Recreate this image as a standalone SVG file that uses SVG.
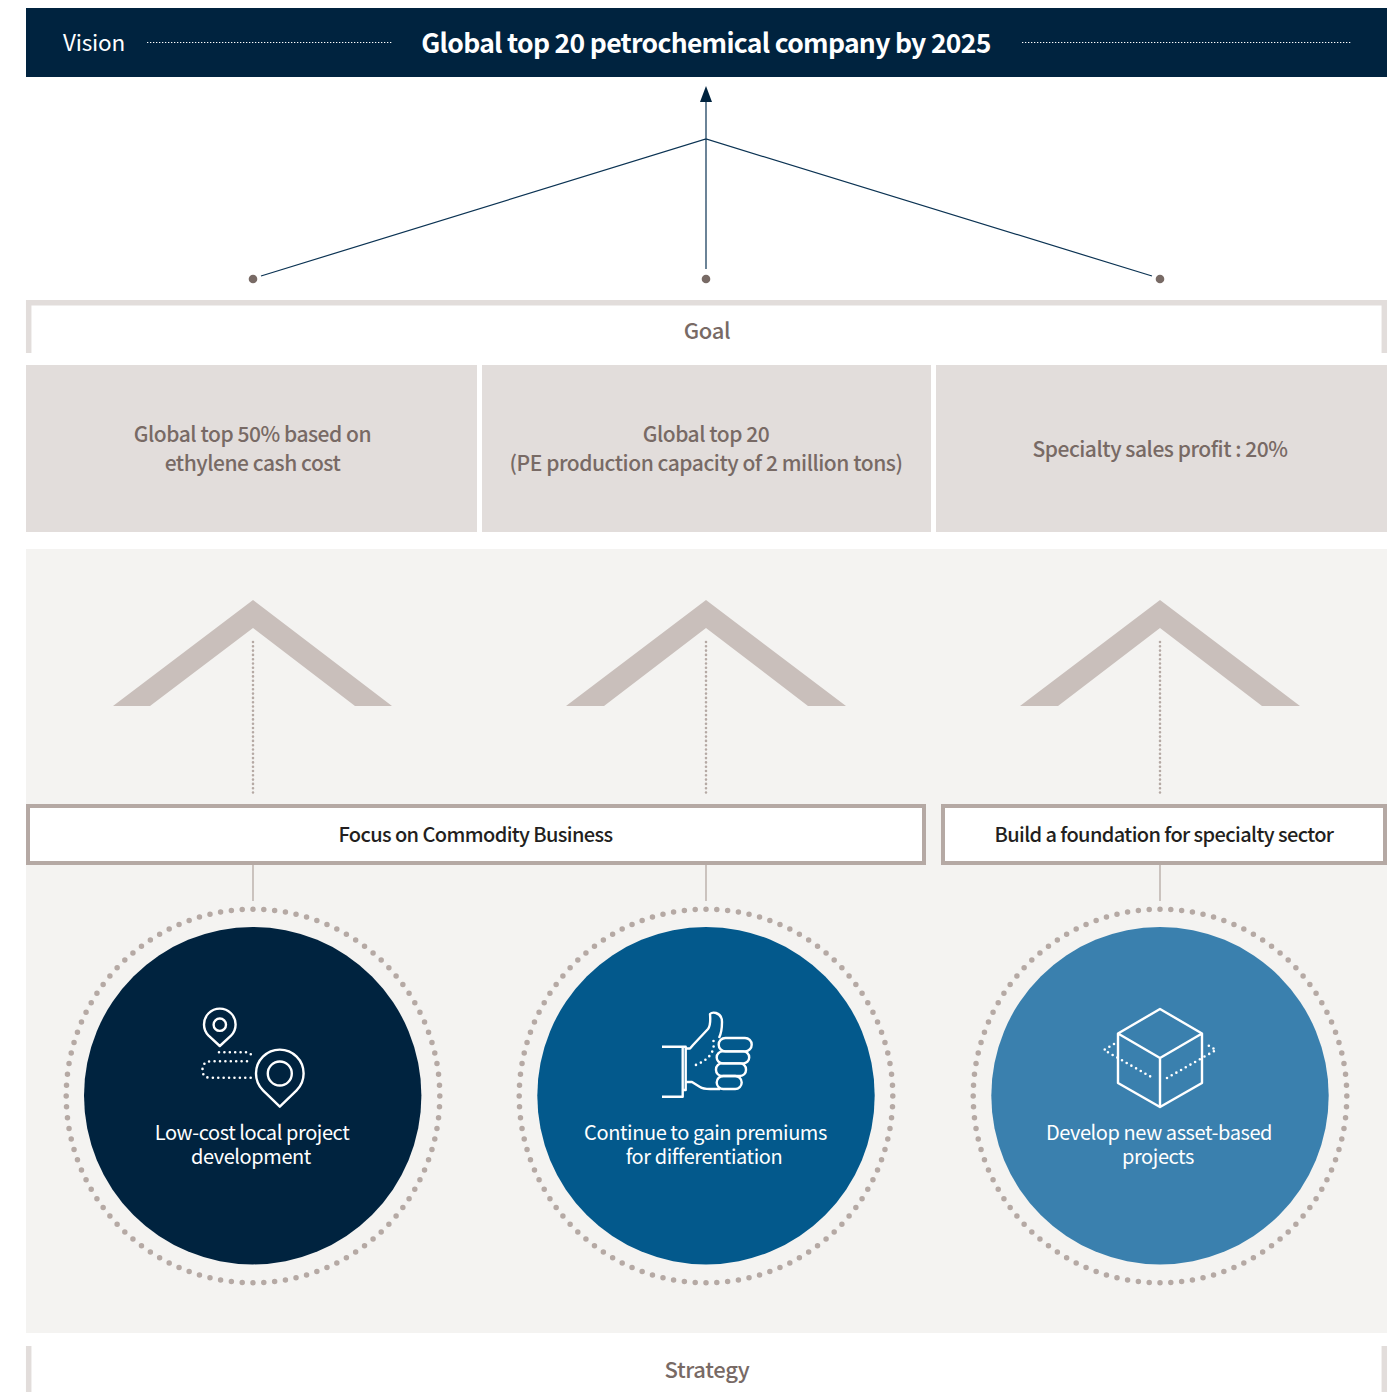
<svg xmlns="http://www.w3.org/2000/svg" width="1399" height="1392" viewBox="0 0 1399 1392">
<style>
text{font-family:"Noto Sans CJK KR","Noto Sans",sans-serif;text-anchor:middle}
.g{fill:#786a65;font-size:21px;font-weight:500;letter-spacing:-.46px}
.k{fill:#231f20;font-size:20px;font-weight:500;letter-spacing:-.6px}
.w{fill:#fff;font-size:20px;font-weight:400;letter-spacing:-.42px}
.box{fill:#e2dddb}
.chev{fill:#c9bfbb}
.ic{fill:none;stroke:#fff;stroke-width:2.4;stroke-linejoin:round}
.id{fill:none;stroke:#fff;stroke-width:2.6;stroke-linecap:round;stroke-dasharray:0 5.4}
.sq{fill:#fff;stroke:#b5a9a4;stroke-width:4}
.ring{fill:none;stroke:#b5a9a4;stroke-width:5.5;stroke-linecap:round;stroke-dasharray:0 1}
.dotv{fill:none;stroke:#b5a9a4;stroke-width:2.6;stroke-linecap:round;stroke-dasharray:0 4.3}
.stem{stroke:#b5a9a4;stroke-width:1.3}
.ln{fill:none;stroke:#0b3353;stroke-width:1.2}
.dot{fill:#786a65}
.br{fill:none;stroke:#e2dddb;stroke-width:5.5}
</style>
<rect width="1399" height="1392" fill="#fff"/>
<rect id="panel" x="26" y="549" width="1361" height="784" fill="#f4f3f1"/>
<g id="vision">
<rect x="26" y="8" width="1361" height="69" fill="#00233f"/>
<text x="94" y="51" fill="#fff" style="font-size:22.5px;font-weight:400;letter-spacing:-.2px">Vision</text>
<line x1="147" y1="42.500" x2="392" y2="42.500" stroke="#fff" stroke-width="1" stroke-dasharray="1.300 1.700"/>
<text x="706" y="53" fill="#fff" style="font-size:26.5px;font-weight:700;letter-spacing:-.7px">Global top 20 petrochemical company by 2025</text>
<line x1="1022" y1="42.500" x2="1351" y2="42.500" stroke="#fff" stroke-width="1" stroke-dasharray="1.300 1.700"/>
</g>
<g id="connectors">
<path class="ln" d="M706 269V100M261 276L706 139L1152 276"/>
<path d="M706 86L712 102H700Z" fill="#00233f"/>
<circle class="dot" cx="253" cy="279" r="4.300"/><circle class="dot" cx="706" cy="279" r="4.300"/><circle class="dot" cx="1160" cy="279" r="4.300"/>
<path class="dotv" d="M253 642V795M706 642V795M1160 642V795"/>
<path class="stem" d="M253 865V901M706 865V901M1160 865V901"/>
</g>
<g id="goal">
<path class="br" d="M28.700 353V302.700H1384.300V353"/>
<text class="g" x="707" y="339" style="font-size:22px;letter-spacing:-.35px">Goal</text>
</g>
<g id="goal1"><rect class="box" x="26" y="365" width="451" height="167"/><text class="g" x="252.500" y="441.700">Global top 50% based on</text><text class="g" x="252.500" y="470.700">ethylene cash cost</text></g>
<g id="goal2"><rect class="box" x="482" y="365" width="449" height="167"/><text class="g" x="706" y="441.700">Global top 20</text><text class="g" x="706" y="470.700">(PE production capacity of 2 million tons)</text></g>
<g id="goal3"><rect class="box" x="936" y="365" width="451" height="167"/><text class="g" x="1160" y="456.500">Specialty sales profit : 20%</text></g>
<g id="chevrons">
<path id="c1" class="chev" d="M253 600L392 706H355L253 628L150 706H113Z"/>
<path id="c2" class="chev" d="M706 600L846 706H808L706 628L604 706H566Z"/>
<path id="c3" class="chev" d="M1160 600L1300 706H1262L1160 628L1058 706H1020Z"/>
</g>
<g id="focus"><rect class="sq" x="28" y="806" width="896" height="57"/><text class="k" x="475.500" y="842">Focus on Commodity Business</text></g>
<g id="build"><rect class="sq" x="943" y="806" width="442" height="57"/><text class="k" x="1164" y="842">Build a foundation for specialty sector</text></g>
<g id="s1">
<circle class="ring" cx="253" cy="1096" r="186.800" pathLength="108"/>
<circle cx="252.700" cy="1095.700" r="168.700" fill="#00233f"/>
<path class="ic" d="M219.800 1046L208.600 1035.600A15.800 15.800 0 1 1 231 1035.600Z"/><circle class="ic" cx="219.800" cy="1024.700" r="6.200"/>
<path class="ic" d="M279.800 1106.700L263 1090.300A23.800 23.800 0 1 1 296.600 1090.300Z"/><circle class="ic" cx="279.800" cy="1073.500" r="12"/>
<path class="id" d="M219 1052.300H247Q251 1052.500 251.700 1056.700M247 1061.300H210Q203 1062 202.500 1069Q202 1077.700 210 1077.700H253"/>
<text class="w" x="252" y="1139.800">Low-cost local project</text><text class="w" x="251" y="1163.600">development</text>
</g>
<g id="s2">
<circle class="ring" cx="706" cy="1096" r="186.800" pathLength="108"/>
<circle cx="706" cy="1095.700" r="168.700" fill="#03598c"/>
<path class="ic" d="M662 1046.700H682.700V1096.700H662M682.700 1046.700H685.700V1090H682.700M685.700 1048.500H690L693 1045L708 1029Q711 1025 710 1014Q712 1012 716 1013Q722 1015 722 1022Q722 1032 719 1038"/>
<path class="ic" d="M685.700 1082H692L700 1087Q703 1089 710 1089H720"/>
<rect class="ic" x="718.700" y="1038" width="33" height="13.400" rx="6.700"/>
<rect class="ic" x="716.700" y="1051.400" width="32.500" height="12" rx="6"/>
<rect class="ic" x="716" y="1063.400" width="30" height="12.600" rx="6"/>
<rect class="ic" x="716.700" y="1076" width="25" height="13" rx="6.500"/>
<path class="id" d="M713.500 1041Q716 1058 693 1066"/>
<text class="w" x="705.500" y="1139.800">Continue to gain premiums</text><text class="w" x="704" y="1163.600">for differentiation</text>
</g>
<g id="s3">
<circle class="ring" cx="1160" cy="1096" r="186.800" pathLength="108"/>
<circle cx="1160" cy="1095.700" r="168.700" fill="#3a80ae"/>
<path class="ic" d="M1160 1009L1202 1033.500V1083L1160 1107L1118 1083V1033.500ZM1118 1033.500L1160 1058L1202 1033.500M1160 1058V1107"/>
<path class="id" d="M1114 1044L1104 1050L1153 1078M1167 1078L1216 1050L1206 1044"/>
<text class="w" x="1159" y="1139.800">Develop new asset-based</text><text class="w" x="1158" y="1163.600">projects</text>
</g>
<g id="strategy">
<path class="br" d="M28.700 1346V1392M1384.300 1346V1392"/>
<text class="g" x="707" y="1378" style="font-size:22px;letter-spacing:-.35px">Strategy</text>
</g>
</svg>
